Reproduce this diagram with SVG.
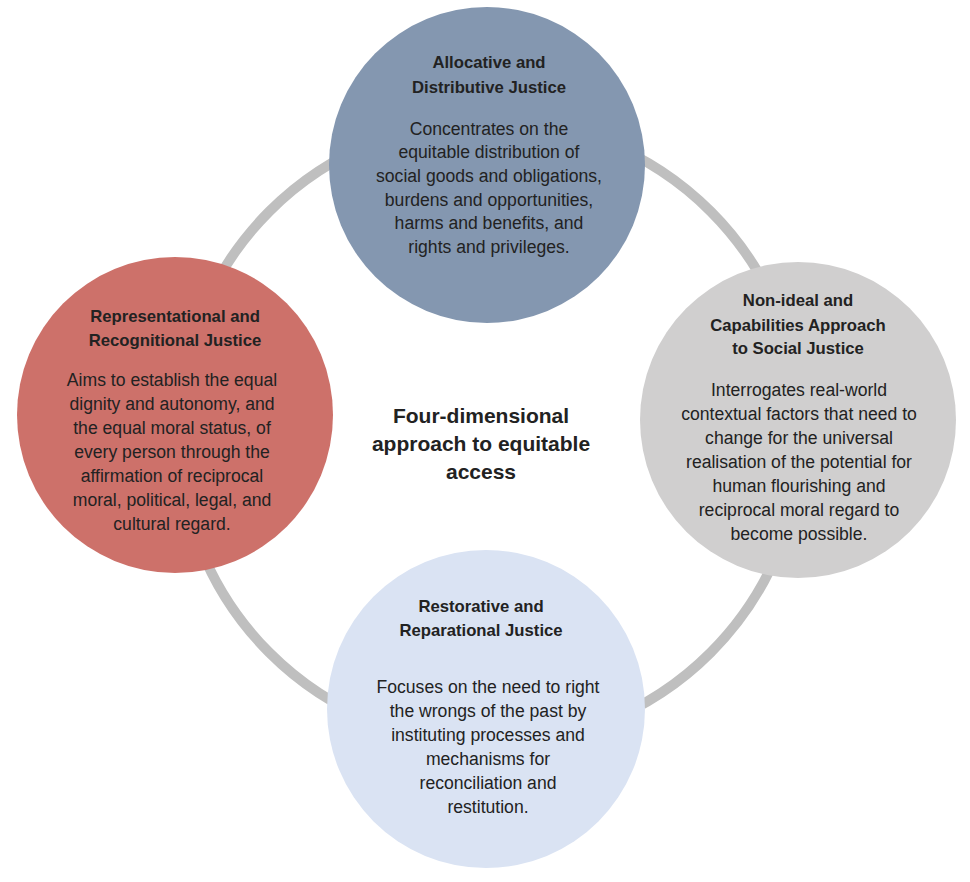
<svg xmlns="http://www.w3.org/2000/svg" width="970" height="882" viewBox="0 0 970 882">
<style>
  text { font-family: "Liberation Sans", Arial, sans-serif; fill: #222222; text-anchor: middle; }
  .t { font-weight: bold; font-size: 16.7px; }
  .b { font-size: 17.6px; }
  .c { font-weight: bold; font-size: 21px; }
</style>
<rect width="970" height="882" fill="#ffffff"/>
<g id="connectors">
  <circle cx="490" cy="432" r="312" fill="none" stroke="#bfbfbf" stroke-width="10"/>
</g>
<g id="node-allocative">
  <circle cx="487" cy="165" r="158" fill="#8497b0"/>
  <text class="t" x="489" y="68">Allocative and</text>
  <text class="t" x="489" y="93">Distributive Justice</text>
  <text class="b" x="489" y="135">Concentrates on the</text>
  <text class="b" x="489" y="158">equitable distribution of</text>
  <text class="b" x="489" y="182">social goods and obligations,</text>
  <text class="b" x="489" y="206">burdens and opportunities,</text>
  <text class="b" x="489" y="229">harms and benefits, and</text>
  <text class="b" x="489" y="253">rights and privileges.</text>
</g>
<g id="node-representational">
  <circle cx="175" cy="415" r="158" fill="#cd716a"/>
  <text class="t" x="175" y="322">Representational and</text>
  <text class="t" x="175" y="346">Recognitional Justice</text>
  <text class="b" x="172" y="386">Aims to establish the equal</text>
  <text class="b" x="172" y="410">dignity and autonomy, and</text>
  <text class="b" x="172" y="434">the equal moral status, of</text>
  <text class="b" x="172" y="458">every person through the</text>
  <text class="b" x="172" y="482">affirmation of reciprocal</text>
  <text class="b" x="172" y="506">moral, political, legal, and</text>
  <text class="b" x="172" y="530">cultural regard.</text>
</g>
<g id="node-nonideal">
  <circle cx="798" cy="420" r="158" fill="#d0cfcf"/>
  <text class="t" x="798" y="306">Non-ideal and</text>
  <text class="t" x="798" y="331">Capabilities Approach</text>
  <text class="t" x="798" y="354">to Social Justice</text>
  <text class="b" x="799" y="396">Interrogates real-world</text>
  <text class="b" x="799" y="420">contextual factors that need to</text>
  <text class="b" x="799" y="444">change for the universal</text>
  <text class="b" x="799" y="468">realisation of the potential for</text>
  <text class="b" x="799" y="492">human flourishing and</text>
  <text class="b" x="799" y="516">reciprocal moral regard to</text>
  <text class="b" x="799" y="540">become possible.</text>
</g>
<g id="node-restorative">
  <circle cx="486" cy="709" r="159" fill="#dae3f3"/>
  <text class="t" x="481" y="612">Restorative and</text>
  <text class="t" x="481" y="636">Reparational Justice</text>
  <text class="b" x="488" y="693">Focuses on the need to right</text>
  <text class="b" x="488" y="717">the wrongs of the past by</text>
  <text class="b" x="488" y="741">instituting processes and</text>
  <text class="b" x="488" y="765">mechanisms for</text>
  <text class="b" x="488" y="789">reconciliation and</text>
  <text class="b" x="488" y="813">restitution.</text>
</g>
<g id="center-label">
  <text class="c" x="481" y="423">Four-dimensional</text>
  <text class="c" x="481" y="451">approach to equitable</text>
  <text class="c" x="481" y="479">access</text>
</g>
</svg>
